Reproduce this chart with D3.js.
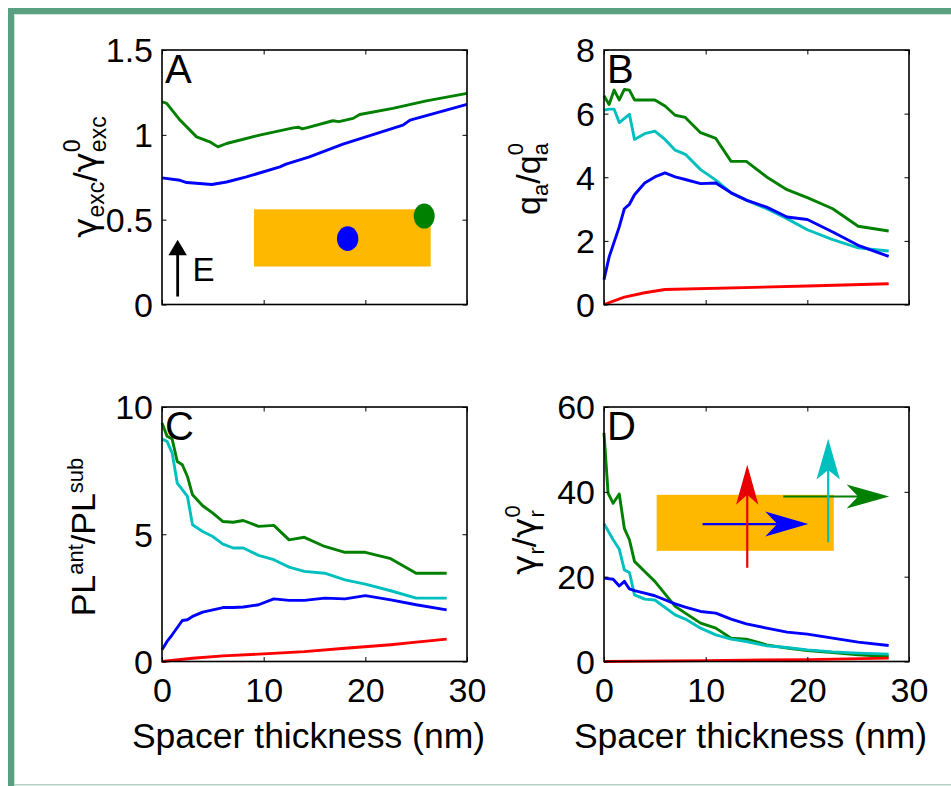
<!DOCTYPE html>
<html>
<head>
<meta charset="utf-8">
<script src="https://cdn.jsdelivr.net/npm/d3@7"></script>
<style>
  html, body { margin: 0; padding: 0; background: #fff; }
  svg { display: block; }
  text { font-family: "Liberation Sans", Arial, Helvetica, sans-serif; fill: #000; }
  .greek { font-family: "DejaVu Sans", "Liberation Sans", sans-serif; }
</style>
</head>
<body>
<svg id="chart" width="951" height="786"></svg>
<script>
// ---------------- DATA ----------------
const xTickValues = [0, 10, 20, 30];
const yTicksA = [0, 0.5, 1, 1.5];
const yTicksB = [0, 2, 4, 6, 8];
const yTicksC = [0, 5, 10];
const yTicksD = [0, 20, 40, 60];
const panelLetters = ["A", "B", "C", "D"];
const xAxisTitle = "Spacer thickness (nm)";

// Panel A: excitation rate enhancement
const aGreen = [[0,1.195],[0.46,1.185],[1.77,1.087],[3.4,0.988],[4.7,0.959],[5.5,0.929],[6.35,0.949],[9.6,0.998],[12.9,1.041],[13.4,1.045],[13.8,1.035],[14.3,1.043],[16.8,1.083],[17.4,1.078],[18.8,1.097],[19.45,1.12],[22.7,1.156],[26,1.2],[30,1.244]];
const aBlue = [[0,0.746],[1.77,0.732],[2.43,0.719],[4.9,0.707],[6.35,0.722],[8.3,0.752],[11.6,0.811],[12.2,0.827],[14.5,0.87],[17.8,0.945],[23.7,1.057],[24.4,1.087],[30,1.18]];

// Panel B: quantum yield enhancement
const bGreen = [[0,6.56],[0.5,6.29],[1,6.74],[1.5,6.43],[2,6.76],[2.5,6.74],[3,6.43],[4,6.43],[5,6.43],[6,6.24],[7,5.95],[8,5.88],[9.5,5.40],[11,5.22],[12.5,4.50],[14,4.50],[16,4.01],[18,3.61],[20,3.36],[22.5,3.01],[25,2.46],[28,2.31]];
const bCyan = [[0,6.11],[0.5,6.14],[1,6.14],[1.5,5.72],[2.5,5.98],[3,5.19],[4,5.37],[5,5.45],[6,5.19],[7,4.85],[8,4.72],[9.5,4.24],[11,3.91],[12.5,3.51],[14,3.28],[16,3.01],[18,2.70],[20,2.35],[22.5,2.04],[25,1.78],[28,1.68]];
const bBlue = [[0,0.78],[0.5,1.49],[1.5,2.44],[2,3.01],[2.5,3.15],[3,3.45],[4,3.82],[5,4.01],[6,4.14],[7,4.01],[8,3.93],[9.5,3.80],[11,3.82],[12.5,3.51],[14,3.28],[16,3.06],[18,2.75],[20,2.67],[22.5,2.28],[25,1.86],[28,1.51]];
const bRed = [[0,0.0],[2,0.23],[4,0.37],[6,0.47],[20,0.58],[28,0.65]];

// Panel C: photoluminescence enhancement
const cGreen = [[0,9.37],[0.5,8.85],[1,8.74],[1.5,7.86],[2,7.73],[2.5,7.27],[3,6.55],[4,6.12],[5,5.83],[6,5.50],[7,5.47],[8,5.54],[9.5,5.31],[11,5.35],[12.5,4.78],[14,4.88],[16,4.52],[18,4.29],[20,4.29],[22.5,4.04],[25,3.47],[28,3.47]];
const cCyan = [[0,8.74],[0.5,8.65],[1,8.19],[1.5,7.01],[2,6.75],[2.5,6.49],[3,5.37],[4,5.11],[5,4.91],[6,4.61],[7,4.46],[8,4.46],[9.5,4.17],[11,4.0],[12.5,3.71],[14,3.54],[16,3.47],[18,3.21],[20,3.04],[22.5,2.78],[25,2.49],[28,2.49]];
const cBlue = [[0,0.46],[0.5,0.79],[1,1.05],[2,1.61],[2.5,1.64],[3,1.77],[4,1.94],[5,2.03],[6,2.12],[7,2.12],[8,2.14],[9.5,2.23],[11,2.46],[12.5,2.40],[14,2.40],[16,2.49],[18,2.46],[20,2.59],[22.5,2.42],[25,2.23],[28,2.03]];
const cRed = [[0,0.0],[3,0.13],[6,0.22],[10,0.30],[14,0.39],[18,0.52],[22.5,0.66],[25,0.76],[28,0.88]];

// Panel D: radiative rate enhancement
const dGreen = [[0,53.9],[0.4,39.7],[0.9,37.3],[1.5,39.5],[2,31.4],[2.5,28.7],[3,23.6],[4,21.2],[5,18.9],[7,13.0],[8,11.4],[9.5,9.04],[11,7.86],[12.5,5.50],[14,5.27],[16,3.93],[18,3.14],[20,2.59],[22.5,2.12],[25,1.57],[28,1.18]];
const dCyan = [[0,32.5],[0.9,28.7],[1.5,26.5],[2,21.6],[2.5,21.0],[3,15.7],[4,14.7],[5,14.5],[7,11.0],[8,10.0],[9.5,7.86],[11,6.29],[12.5,5.27],[14,4.72],[16,3.7],[18,3.3],[20,2.75],[22.5,2.28],[25,1.97],[28,1.73]];
const dBlue = [[0,19.65],[0.9,19.4],[1.5,17.8],[2,18.9],[2.5,17.1],[3,16.7],[4,16.1],[5,15.5],[7,13.6],[8,12.8],[9.5,11.8],[11,11.4],[12.5,10.0],[14,8.88],[16,7.86],[18,6.92],[20,6.45],[22.5,5.5],[25,4.56],[28,3.77]];
const dRed = [[0,0.0],[10,0.2],[20,0.45],[28,0.79]];

// ---------------- STYLE ----------------
const COL = { green: "#008000", cyan: "#00bfbf", blue: "#0000ff", red: "#ff0000", orange: "#ffb800" };
const FONT_TICK = 34, FONT_LETTER = 40, FONT_TITLE = 35.5;

const svg = d3.select("#chart");

// frame
svg.append("rect").attr("x", 8).attr("y", 8).attr("width", 951 - 8).attr("height", 6).attr("fill", "#5a9f7f");
svg.append("rect").attr("x", 8).attr("y", 8).attr("width", 6).attr("height", 786 - 8).attr("fill", "#5a9f7f");
svg.append("rect").attr("x", 14).attr("y", 14).attr("width", 951 - 14).attr("height", 1).attr("fill", "#cfe6da");
svg.append("rect").attr("x", 14).attr("y", 14).attr("width", 1).attr("height", 786 - 14).attr("fill", "#cfe6da");
svg.append("rect").attr("x", 14).attr("y", 784).attr("width", 951 - 14).attr("height", 1.5).attr("fill", "#b3d2c3");

const panels = [
  { letter: panelLetters[0], left: 162, top: 50, yDomain: [0, 1.5], yTicks: yTicksA, fmt: d => String(d), xLabels: false,
    series: [[aGreen, COL.green], [aBlue, COL.blue]] },
  { letter: panelLetters[1], left: 604, top: 50, yDomain: [0, 8], yTicks: yTicksB, fmt: d => String(d), xLabels: false,
    series: [[bRed, COL.red], [bGreen, COL.green], [bCyan, COL.cyan], [bBlue, COL.blue]] },
  { letter: panelLetters[2], left: 162, top: 407, yDomain: [0, 10], yTicks: yTicksC, fmt: d => String(d), xLabels: true,
    series: [[cRed, COL.red], [cGreen, COL.green], [cCyan, COL.cyan], [cBlue, COL.blue]] },
  { letter: panelLetters[3], left: 604, top: 407, yDomain: [0, 60], yTicks: yTicksD, fmt: d => String(d), xLabels: true,
    series: [[dGreen, COL.green], [dCyan, COL.cyan], [dBlue, COL.blue], [dRed, COL.red]] }
];
const W = 305, H = 254.5;

function richLabel(parent, parts) {
  // parts: {t, s, dy, stack, cls}
  const g = parent.append("g");
  let cursor = 0, prevStart = 0;
  parts.forEach(p => {
    const start = p.stack ? prevStart : cursor;
    const t = g.append("text").attr("x", start).attr("y", p.dy || 0)
      .attr("font-size", p.s).attr("class", p.cls || null).text(p.t);
    const w = t.node().getComputedTextLength();
    cursor = Math.max(cursor, start + w);
    prevStart = start;
  });
  return { g, width: cursor };
}

function arrowHead(g, tipX, tipY, dirX, dirY, len, half, notch, color) {
  const px = -dirY, py = dirX;
  const bx = tipX - dirX * len, by = tipY - dirY * len;
  const nx = tipX - dirX * (len - notch), ny = tipY - dirY * (len - notch);
  g.append("path")
    .attr("d", `M${tipX},${tipY}L${bx + px * half},${by + py * half}L${nx},${ny}L${bx - px * half},${by - py * half}Z`)
    .attr("fill", color);
}

const scales = [];
panels.forEach((p, i) => {
  const x = d3.scaleLinear().domain([0, 30]).range([p.left, p.left + W]);
  const y = d3.scaleLinear().domain(p.yDomain).range([p.top + H, p.top]);
  scales.push({ x, y });
  const g = svg.append("g");
  p.g = g;

  const line = d3.line().x(d => x(d[0])).y(d => y(d[1]));
  p.series.forEach(([data, color]) => {
    g.append("path").datum(data).attr("d", line).attr("fill", "none")
      .attr("stroke", color).attr("stroke-width", 2.9).attr("stroke-linejoin", "round");
  });

  const tl = 4.5;
  const axL = d3.axisLeft(y).tickValues(p.yTicks).tickSizeInner(-tl).tickSizeOuter(0).tickPadding(9).tickFormat(p.fmt);
  const axR = d3.axisRight(y).tickValues(p.yTicks).tickSizeInner(-tl).tickSizeOuter(0).tickFormat("");
  const axB = d3.axisBottom(x).tickValues(xTickValues).tickSizeInner(-tl).tickSizeOuter(0).tickPadding(16).tickFormat(p.xLabels ? d => String(d) : "");
  const axT = d3.axisTop(x).tickValues(xTickValues).tickSizeInner(-tl).tickSizeOuter(0).tickFormat("");
  const gl = g.append("g").attr("transform", `translate(${p.left},0)`).call(axL);
  g.append("g").attr("transform", `translate(${p.left + W},0)`).call(axR);
  const gb = g.append("g").attr("transform", `translate(0,${p.top + H})`).call(axB);
  g.append("g").attr("transform", `translate(0,${p.top})`).call(axT);
  g.selectAll(".domain").remove();
  g.selectAll(".tick line").attr("stroke", "#000").attr("stroke-width", 1);
  gl.selectAll("text").attr("font-size", FONT_TICK).attr("font-family", null).attr("dy", "0.35em");
  gb.selectAll("text").attr("font-size", FONT_TICK).attr("font-family", null).attr("dy", "0.71em");
  g.append("rect").attr("x", p.left).attr("y", p.top).attr("width", W).attr("height", H)
    .attr("fill", "none").attr("stroke", "#000").attr("stroke-width", 1.6);

  g.append("text").attr("x", p.left + 3).attr("y", p.top + 33).attr("font-size", FONT_LETTER).text(p.letter);

  if (p.xLabels) {
    g.append("text").attr("x", p.left + W / 2 - 6).attr("y", p.top + H + 86)
      .attr("text-anchor", "middle").attr("font-size", FONT_TITLE).text(xAxisTitle);
  }
});

// y-axis titles
function placeTitle(lbl, bx, cy) {
  lbl.g.attr("transform", `translate(${bx},${cy}) rotate(-90) translate(${-lbl.width / 2},0)`);
}
placeTitle(richLabel(svg, [
  { t: "γ", s: 34, cls: "greek" }, { t: "exc", s: 23, dy: 7 }, { t: "/", s: 34 }, { t: "γ", s: 34, cls: "greek" },
  { t: "0", s: 23, dy: -17 }, { t: "exc", s: 23, dy: 9, stack: true }
]), 97, 177);
placeTitle(richLabel(svg, [
  { t: "q", s: 34 }, { t: "a", s: 22, dy: 8 }, { t: " /", s: 34 }, { t: "q", s: 34 },
  { t: "0", s: 22, dy: -17 }, { t: "a", s: 22, dy: 8, stack: true }
]), 540, 179);
placeTitle(richLabel(svg, [
  { t: "PL", s: 34 }, { t: "ant", s: 22, dy: -12 }, { t: "/PL", s: 34 }, { t: "sub", s: 22, dy: -12 }
]), 95, 537);
placeTitle(richLabel(svg, [
  { t: "γ", s: 34, cls: "greek" }, { t: "r", s: 22, dy: 8 }, { t: "/", s: 34 }, { t: "γ", s: 34, cls: "greek" },
  { t: "0", s: 22, dy: -16 }, { t: "r", s: 22, dy: 8, stack: true }
]), 536, 540);

// ---------------- INSET A ----------------
{
  const { x, y } = scales[0];
  const g = panels[0].g.insert("g", ":first-child");
  g.append("rect").attr("x", x(9.05)).attr("y", y(0.561)).attr("width", x(26.43) - x(9.05))
    .attr("height", y(0.224) - y(0.561)).attr("fill", COL.orange);
  g.append("ellipse").attr("cx", x(18.26)).attr("cy", y(0.388)).attr("rx", 10.7).attr("ry", 12.3).attr("fill", COL.blue);
  g.append("ellipse").attr("cx", x(25.79)).attr("cy", y(0.521)).attr("rx", 10.5).attr("ry", 12.5).attr("fill", COL.green);
  g.append("line").attr("x1", x(1.54)).attr("x2", x(1.54)).attr("y1", y(0.047)).attr("y2", y(0.382) + 12)
    .attr("stroke", "#000").attr("stroke-width", 2.8);
  g.append("path").attr("d", `M${x(1.54)},${y(0.382)}L${x(1.54) - 9.2},${y(0.382) + 15.5}L${x(1.54) + 9.2},${y(0.382) + 15.5}Z`).attr("fill", "#000");
  g.append("text").attr("x", x(3.0)).attr("y", y(0.136)).attr("font-size", 33).text("E");
}

// ---------------- INSET D ----------------
{
  const { x, y } = scales[3];
  const g = panels[3].g.append("g");
  g.append("rect").attr("x", x(5.18)).attr("y", y(39.3)).attr("width", x(22.6) - x(5.18))
    .attr("height", y(26.1) - y(39.3)).attr("fill", COL.orange);
  g.append("line").attr("x1", x(9.69)).attr("x2", x(20.09) - 30).attr("y1", y(32.4)).attr("y2", y(32.4))
    .attr("stroke", COL.blue).attr("stroke-width", 2.2);
  arrowHead(g, x(20.09), y(32.4), 1, 0, 43, 12.5, 12, COL.blue);
  g.append("line").attr("x1", x(14.09)).attr("x2", x(14.09)).attr("y1", y(22.1)).attr("y2", y(46.4) + 30)
    .attr("stroke", "#e80000").attr("stroke-width", 2.2);
  arrowHead(g, x(14.09), y(46.4), 0, -1, 40, 11.2, 10, "#e80000");
  g.append("line").attr("x1", x(17.63)).attr("x2", x(28.05) - 30).attr("y1", y(38.9)).attr("y2", y(38.9))
    .attr("stroke", COL.green).attr("stroke-width", 2.2);
  arrowHead(g, x(28.05), y(38.9), 1, 0, 42.6, 12, 11.5, COL.green);
  g.append("line").attr("x1", x(22.05)).attr("x2", x(22.05)).attr("y1", y(28.1)).attr("y2", y(52.5) + 30)
    .attr("stroke", COL.cyan).attr("stroke-width", 2.2);
  arrowHead(g, x(22.05), y(52.5), 0, -1, 40.7, 11.7, 9.5, COL.cyan);
}
</script>
</body>
</html>
